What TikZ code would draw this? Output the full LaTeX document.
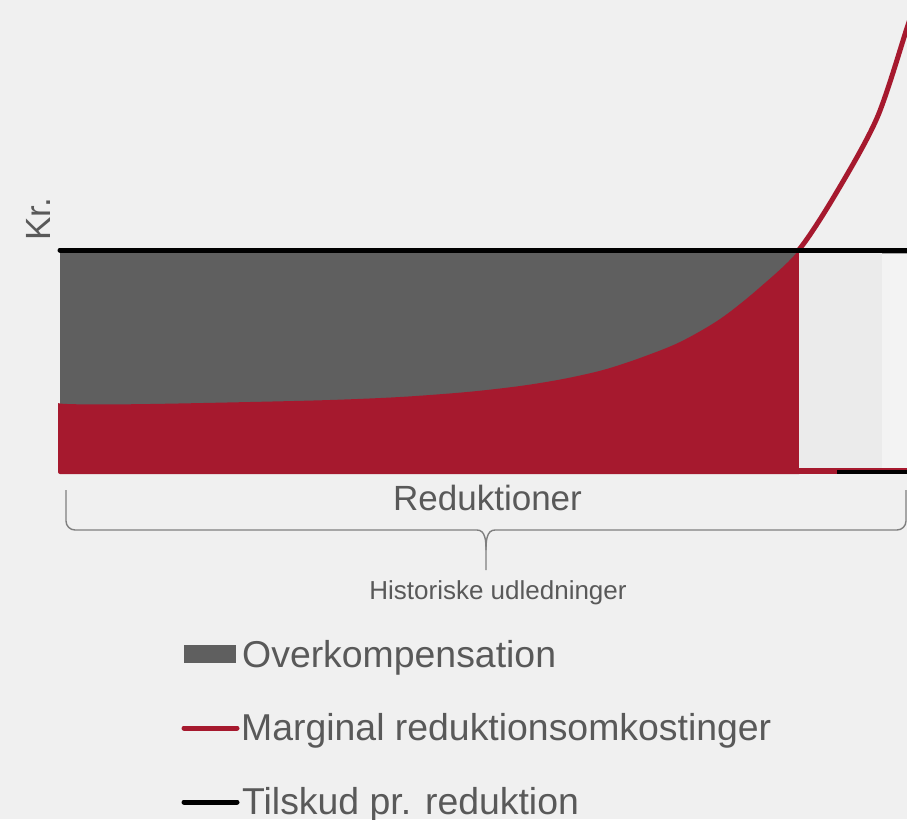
\documentclass[tikz,border=0pt]{standalone}
\usepackage{fontspec}
\setmainfont{Liberation Sans}
\definecolor{bgc}{HTML}{F0F0F0}
\definecolor{grayc}{HTML}{5F5F5F}
\definecolor{redc}{HTML}{A6192E}
\definecolor{txtc}{HTML}{595959}
\definecolor{bracec}{HTML}{7F7F7F}
\definecolor{panelA}{HTML}{EBEBEB}
\definecolor{panelB}{HTML}{F3F3F3}
\tikzset{
  txt/.style={inner sep=0pt, text=txtc},
  legtxt/.style={txt, anchor=base west, font=\fontsize{37.4}{42}\selectfont},
  thickline/.style={line width=5pt, line cap=round},
  bracepath/.style={draw=bracec, line width=1.4pt},
}
\def\curvepts{(58,405) (150,404) (250,402) (330,400) (400,397) (467,392) (520,386) (563,379) (603,370) (640,358) (680,342) (720,319) (758,289) (798,251) (835,195) (877,118) (907,28) (917,-2)}
\begin{document}
\begin{tikzpicture}[x=1pt,y=-1pt]
\useasboundingbox (0,0) rectangle (907,819);
\clip (0,0) rectangle (907,819);
\fill[bgc] (0,0) rectangle (907,819);
% over-compensation area
\fill[grayc] (60,250) rectangle (798,430);
% area under marginal cost curve
\begin{scope}
  \clip (58,240) rectangle (799,474);
  \fill[redc, rounded corners=2pt] (58,474) -- (58,405) -- plot[smooth] coordinates {\curvepts} -- (930,474) -- cycle;
\end{scope}
% right panel
\fill[panelB] (799,253) rectangle (907,469);
\fill[panelA] (799,253) rectangle (882,469);
\draw[bracec!70, line width=0.8pt] (882,253) -- (907,253);
\fill[redc] (799,468) rectangle (907,474);
\fill[black] (837,470) rectangle (907,474);
% marginal cost curve line
\begin{scope}
  \clip (780,-10) rectangle (920,252);
  \draw[redc, line width=5pt] plot[smooth] coordinates {\curvepts};
\end{scope}
% subsidy line
\coordinate (subA) at (60,250);
\coordinate (subB) at (910,250);
\draw[black, thickline] (subA) -- (subB);
% axis label
\node[txt, rotate=90, anchor=base west, font=\fontsize{35}{40}\selectfont] (kr) at (50,241) {Kr.};
\node[txt, anchor=base, font=\fontsize{35}{40}\selectfont] (red) at (487.5,510) {Reduktioner};
% brace
\coordinate (bl) at (66,490);
\coordinate (br) at (906,490);
\coordinate (btip) at (486,570);
\draw[bracepath] (bl) -- (66,521) to[out=-90,in=180] (75,530) -- (477,530) to[out=0,in=90] (486,550) -- (btip);
\draw[bracepath] (br) -- (906,521) to[out=-90,in=0] (897,530) -- (495,530) to[out=180,in=90] (486,550);
\node[txt, anchor=base, font=\fontsize{26}{30}\selectfont] (hist) at (498,599) {Historiske udledninger};
% legend
\fill[grayc] (184,645) rectangle (236,663);
\node[legtxt] (l1) at (242,667) {Overkompensation};
\coordinate (m1) at (184,728);
\coordinate (m2) at (237,728);
\draw[redc, thickline] (m1) -- (m2);
\node[legtxt] (l2) at (241,740) {Marginal reduktionsomkostinger};
\coordinate (t1) at (184,802);
\coordinate (t2) at (237,802);
\draw[black, thickline] (t1) -- (t2);
\node[legtxt] (l3) at (242,814) {Tilskud pr. reduktion};
\end{tikzpicture}
\end{document}
